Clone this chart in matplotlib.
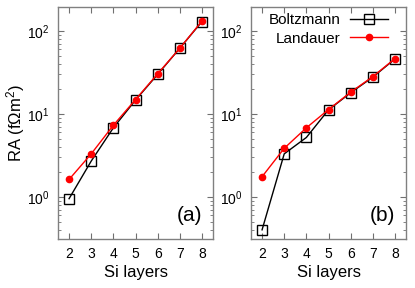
import matplotlib
matplotlib.use("Agg")
import matplotlib.pyplot as plt
from matplotlib.ticker import LogLocator, NullFormatter

plt.rcParams['font.family'] = ['Liberation Sans', 'DejaVu Sans']
plt.rcParams['mathtext.fontset'] = 'custom'
plt.rcParams['mathtext.rm'] = 'Liberation Sans'
plt.rcParams['mathtext.it'] = 'Liberation Sans'
plt.rcParams['mathtext.default'] = 'rm'

layers = [2, 3, 4, 5, 6, 7, 8]

# panel (a)
boltz_a = [0.95, 2.7, 6.8, 14.7, 30, 62, 130]
land_a = [1.62, 3.3, 7.3, 14.9, 30.5, 62, 132]

# panel (b)
boltz_b = [0.40, 3.3, 5.2, 11.2, 18.0, 27.8, 46]
land_b = [1.75, 3.85, 6.8, 11.3, 18.3, 28.2, 46.5]

fig = plt.figure(figsize=(4.15, 2.88), dpi=100)
ax1 = fig.add_axes([58/415, 1-239/288, 155/415, 232/288])
ax2 = fig.add_axes([251/415, 1-239/288, 155/415, 232/288])

for ax, b, l, tag in [(ax1, boltz_a, land_a, '(a)'), (ax2, boltz_b, land_b, '(b)')]:
    ax.plot(layers, b, color='black', lw=1, marker='s', ms=7, mfc='none',
            mec='black', mew=1, label='Boltzmann')
    ax.plot(layers, l, color='red', lw=1, marker='o', ms=4.5, mec='red',
            label='Landauer')
    ax.set_yscale('log')
    ax.set_xlim(1.5, 8.5)
    ax.set_ylim(0.31, 195)
    ax.set_xticks(layers)
    ax.yaxis.set_major_locator(LogLocator(base=10, numticks=10))
    ax.yaxis.set_minor_locator(LogLocator(base=10, subs=range(2, 10), numticks=10))
    ax.yaxis.set_minor_formatter(NullFormatter())
    ax.tick_params(which='both', direction='in', top=True, right=True,
                   labelsize=10, color='#707070')
    ax.tick_params(which='major', length=4, width=0.8, pad=6)
    ax.tick_params(which='minor', length=2, width=0.6)
    for s in ax.spines.values():
        s.set_color('#808080')
        s.set_linewidth(1)
    ax.set_xlabel('Si layers', fontsize=12, labelpad=3)
    ax.text(0.93, 0.06, tag, transform=ax.transAxes, ha='right', va='bottom',
            fontsize=15)

ax1.set_ylabel('RA (f\u03a9m$^2$)', fontsize=12, labelpad=0)

ax2.legend(loc='upper right', bbox_to_anchor=(1 - 18/155, 1 - 6/232),
           markerfirst=False, frameon=False, fontsize=11, borderpad=0,
           borderaxespad=0, handlelength=2.5, handletextpad=0.6,
           labelspacing=0.3)

fig.savefig('out.png', dpi=100)
